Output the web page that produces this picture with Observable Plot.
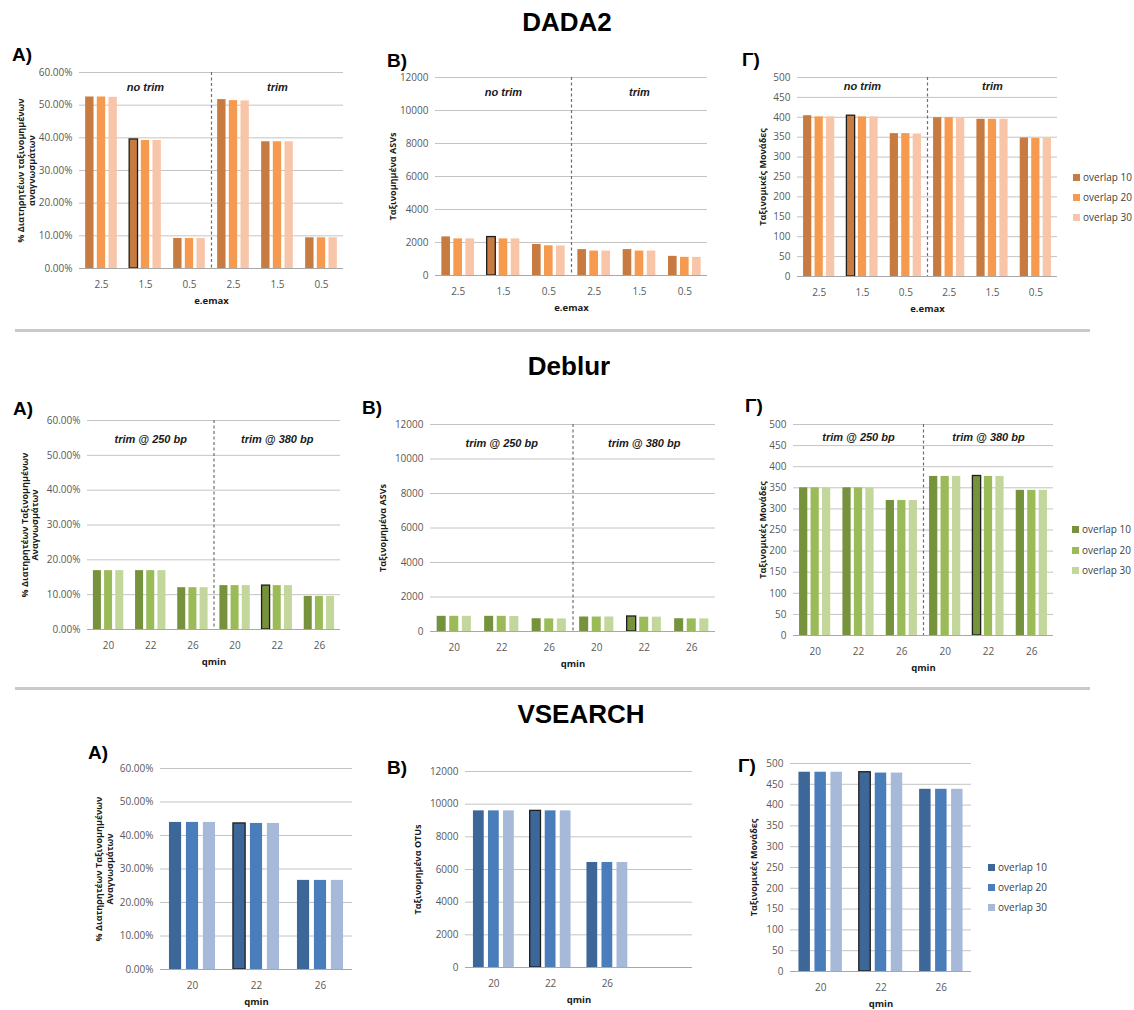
<!DOCTYPE html>
<html><head><meta charset="utf-8">
<script src="https://cdn.jsdelivr.net/npm/d3@7"></script>
<script src="https://cdn.jsdelivr.net/npm/@observablehq/plot@0.6"></script>
<style>
body{margin:0;background:#fff;}
#fig{position:relative;width:1134px;height:1010px;overflow:hidden;background:#fff;font-family:"Open Sans",sans-serif;}
.title{position:absolute;width:300px;text-align:center;font:bold 26px/26px "Liberation Sans",Arial,sans-serif;color:#000;}
.plab{position:absolute;font:bold 19px/19px "Liberation Sans",Arial,sans-serif;color:#000;white-space:nowrap;}
.sep{position:absolute;height:3px;background:#c9c9c9;}
.leg{position:absolute;font:10px/12px "Open Sans",sans-serif;color:#404040;white-space:nowrap;}
.leg i{display:inline-block;width:7px;height:7px;margin-right:3px;vertical-align:0px;}
</style></head><body><div id="fig"></div><script>
// ---------------- data ----------------
const series = ["overlap 10", "overlap 20", "overlap 30"];
const dadaGroups = ["no trim", "trim"];
const dadaLevels = ["2.5", "1.5", "0.5", "2.5", "1.5", "0.5"];
const deblurGroups = ["trim @ 250 bp", "trim @ 380 bp"];
const deblurLevels = ["20", "22", "26", "20", "22", "26"];
const vsearchLevels = ["20", "22", "26"];
const vsearchLevelsB = ["20", "22", "26", ""];

const pctTicks = [0, 10, 20, 30, 40, 50, 60];
const countTicks = [0, 2000, 4000, 6000, 8000, 10000, 12000];
const unitTicks = [0, 50, 100, 150, 200, 250, 300, 350, 400, 450, 500];

// DADA2 (rows: overlap 10, 20, 30)
const dadaReadsPct = [
  [52.5, 39.5, 9.2, 51.7, 38.8, 9.4],
  [52.5, 39.2, 9.2, 51.4, 38.8, 9.4],
  [52.4, 39.2, 9.2, 51.3, 38.8, 9.4]
];
const dadaASVs = [
  [2340, 2330, 1880, 1570, 1570, 1160],
  [2220, 2220, 1800, 1480, 1480, 1100],
  [2220, 2220, 1790, 1480, 1480, 1100]
];
const dadaUnits = [
  [404, 404, 359, 399, 395, 348],
  [401, 401, 359, 399, 395, 347],
  [401, 401, 358, 399, 395, 347]
];
// Deblur
const deblurReadsPct = [
  [16.9, 16.9, 12.0, 12.6, 12.6, 9.5],
  [16.9, 16.9, 12.0, 12.6, 12.6, 9.5],
  [16.9, 16.9, 12.0, 12.6, 12.6, 9.5]
];
const deblurASVs = [
  [880, 880, 740, 840, 870, 740],
  [880, 880, 730, 840, 830, 730],
  [880, 870, 730, 840, 830, 730]
];
const deblurUnits = [
  [350, 350, 320, 377, 378, 344],
  [350, 350, 320, 377, 377, 344],
  [350, 350, 320, 377, 377, 344]
];
// VSEARCH
const vsearchReadsPct = [
  [43.9, 43.6, 26.6],
  [43.9, 43.6, 26.6],
  [43.9, 43.6, 26.6]
];
const vsearchOTUs = [
  [9590, 9590, 6430],
  [9590, 9590, 6430],
  [9590, 9590, 6430]
];
const vsearchUnits = [
  [479, 479, 438],
  [479, 477, 438],
  [479, 477, 438]
];
// selected (outlined) bar index of overlap 10
const dadaSelected = 1, deblurSelected = 4, vsearchSelected = 1;

// ---------------- styling ----------------
const orange = ["#c77b40", "#f59a4f", "#f8c5a9"];
const green = ["#76923c", "#9bbb59", "#c3d69b"];
const blue = ["#3d6699", "#4a7ebb", "#a7b9d9"];

const fig = document.getElementById("fig");

function addDiv(cls, html, left, top, extra) {
  const d = document.createElement("div");
  d.className = cls;
  d.innerHTML = html;
  d.style.left = left + "px";
  d.style.top = top + "px";
  if (extra) Object.assign(d.style, extra);
  fig.appendChild(d);
  return d;
}

const pctFmt = v => v.toFixed(2) + "%";
const intFmt = v => String(v);

function panel(cfg) {
  const {labels, vals, colors, yMax, yTicks, yFmt, box, yTitle, yDx, xTitle, groups, groupDy, sel} = cfg;
  const [L, T, R, B] = box;
  const mL = 90, mR = 12, mT = 12, mB = 48;
  const n = labels.length;
  const pxPer = (R - L) / n;
  const rows = [];
  vals.forEach((arr, s) => arr.forEach((v, i) => rows.push({i, s, v})));
  const OUT = 0.14, BAR = 0.19, GAP = 0.075;
  const x1 = d => d.i + OUT + d.s * (BAR + GAP);
  const x2 = d => x1(d) + BAR;
  const marks = [Plot.ruleY(yTicks, {stroke: "#c4c4c4", strokeWidth: 1})];
  if (groups) marks.push(Plot.ruleX([n / 2], {stroke: "#707070", strokeDasharray: "3,2.5", strokeWidth: 1.2}));
  series.forEach((_, s) => marks.push(Plot.rect(rows.filter(d => d.s === s), {x1, x2, y1: 0, y2: "v", fill: colors[s]})));
  marks.push(Plot.rect(rows.filter(d => d.s === 0 && d.i === sel), {x1, x2, y1: 0, y2: "v", fill: "none", stroke: "#1e1e1e", strokeWidth: 1.3}));
  marks.push(Plot.ruleY([0], {stroke: "#a8a8a8", strokeWidth: 1}));
  if (groups) marks.push(Plot.text(groups, {
    x: (d, i) => n / 4 + i * n / 2, text: d => d, frameAnchor: "top", dy: groupDy,
    fontWeight: "bold", fontStyle: "italic", fontSize: 11, fontFamily: "Liberation Sans, Arial, sans-serif",
    fill: "#1a1a1a", stroke: "white", strokeWidth: 4, lineAnchor: "middle"
  }));
  marks.push(Plot.text([yTitle], {
    text: d => d, x: yDx / pxPer, y: yMax / 2, rotate: -90, fontWeight: "bold", fontSize: 9,
    fill: "#1a1a1a", lineAnchor: "middle", lineHeight: 1.2
  }));
  marks.push(Plot.text([xTitle], {
    text: d => d, frameAnchor: "bottom", dy: 32.5, fontWeight: "bold", fontSize: 9.5,
    fill: "#1a1a1a", lineAnchor: "middle"
  }));
  const svg = Plot.plot({
    width: R - L + mL + mR,
    height: B - T + mT + mB,
    marginLeft: mL, marginRight: mR, marginTop: mT, marginBottom: mB,
    style: {fontFamily: "Open Sans, sans-serif", fontSize: "10px", color: "#595959", background: "transparent", overflow: "visible"},
    x: {domain: [0, n], ticks: d3.range(n).map(i => i + 0.5), tickFormat: v => labels[Math.floor(v)] ?? "", tickSize: 0, tickPadding: 12, label: null},
    y: {domain: [0, yMax], ticks: yTicks, tickFormat: yFmt, tickSize: 0, tickPadding: 7, label: null},
    marks
  });
  svg.style.position = "absolute";
  svg.style.left = (L - mL) + "px";
  svg.style.top = (T - mT) + "px";
  fig.appendChild(svg);
}

function legend(x, ys, colors) {
  series.forEach((s, k) => {
    addDiv("leg", `<i style="background:${colors[k]}"></i>${s}`, x, ys[k] - 6);
  });
}

const readsTitle1 = "% Διατηρητέων ταξινομημένων\nαναγνωσμάτων";
const readsTitle2 = "% Διατηρητέων Ταξινομημένων\nΑναγνωσμάτων";
const unitsTitle = "Ταξινομικές Μονάδες";

// ---------------- section titles, separators ----------------
addDiv("title", "DADA2", 567 - 150, 22 - 12.7);
addDiv("title", "Deblur", 569 - 150, 366 - 12.7);
addDiv("title", "VSEARCH", 581 - 150, 714 - 12.7);
addDiv("sep", "", 15, 329, {width: "1075px"});
addDiv("sep", "", 15, 687, {width: "1075px"});

// ---------------- DADA2 ----------------
addDiv("plab", "A)", 12, 54 - 9.5);
addDiv("plab", "B)", 387, 60 - 9.5);
addDiv("plab", "Γ)", 742, 59 - 9.5);
panel({labels: dadaLevels, vals: dadaReadsPct, colors: orange, yMax: 60, yTicks: pctTicks, yFmt: pctFmt,
  box: [79, 72, 343, 268], yTitle: readsTitle1, yDx: -53.5, xTitle: "e.emax", groups: dadaGroups, groupDy: 15, sel: dadaSelected});
panel({labels: dadaLevels, vals: dadaASVs, colors: orange, yMax: 12000, yTicks: countTicks, yFmt: intFmt,
  box: [435, 77, 707, 275], yTitle: "Ταξινομημένα ASVs", yDx: -43, xTitle: "e.emax", groups: dadaGroups, groupDy: 15, sel: dadaSelected});
panel({labels: dadaLevels, vals: dadaUnits, colors: orange, yMax: 500, yTicks: unitTicks, yFmt: intFmt,
  box: [797, 77, 1057, 276], yTitle: unitsTitle, yDx: -35, xTitle: "e.emax", groups: dadaGroups, groupDy: 9, sel: dadaSelected});
legend(1073, [177, 197, 217], orange);

// ---------------- Deblur ----------------
addDiv("plab", "A)", 13, 408 - 9.5);
addDiv("plab", "B)", 362, 407.5 - 9.5);
addDiv("plab", "Γ)", 745, 405.5 - 9.5);
panel({labels: deblurLevels, vals: deblurReadsPct, colors: green, yMax: 60, yTicks: pctTicks, yFmt: pctFmt,
  box: [87, 420, 340, 629], yTitle: readsTitle2, yDx: -58, xTitle: "qmin", groups: deblurGroups, groupDy: 19, sel: deblurSelected});
panel({labels: deblurLevels, vals: deblurASVs, colors: green, yMax: 12000, yTicks: countTicks, yFmt: intFmt,
  box: [430, 424, 715, 631], yTitle: "Ταξινομημένα ASVs", yDx: -48, xTitle: "qmin", groups: deblurGroups, groupDy: 19, sel: deblurSelected});
panel({labels: deblurLevels, vals: deblurUnits, colors: green, yMax: 500, yTicks: unitTicks, yFmt: intFmt,
  box: [793, 424, 1053, 635], yTitle: unitsTitle, yDx: -31, xTitle: "qmin", groups: deblurGroups, groupDy: 13, sel: deblurSelected});
legend(1072, [529, 550, 570], green);

// ---------------- VSEARCH ----------------
addDiv("plab", "A)", 88, 752.5 - 9.5);
addDiv("plab", "B)", 387, 767.5 - 9.5);
addDiv("plab", "Γ)", 738, 765 - 9.5);
panel({labels: vsearchLevels, vals: vsearchReadsPct, colors: blue, yMax: 60, yTicks: pctTicks, yFmt: pctFmt,
  box: [160, 768, 352, 969], yTitle: readsTitle2, yDx: -56.5, xTitle: "qmin", sel: vsearchSelected});
panel({labels: vsearchLevelsB, vals: vsearchOTUs, colors: blue, yMax: 12000, yTicks: countTicks, yFmt: intFmt,
  box: [465, 771, 692, 967], yTitle: "Ταξινομημένα OTUs", yDx: -48, xTitle: "qmin", sel: vsearchSelected});
panel({labels: vsearchLevels, vals: vsearchUnits, colors: blue, yMax: 500, yTicks: unitTicks, yFmt: intFmt,
  box: [790, 763, 971, 971], yTitle: unitsTitle, yDx: -37, xTitle: "qmin", sel: vsearchSelected});
legend(988, [867, 887, 907], blue);
</script></body></html>
